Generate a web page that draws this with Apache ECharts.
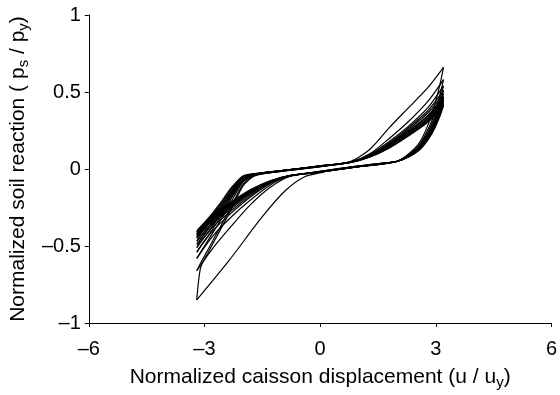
<!DOCTYPE html>
<html>
<head>
<meta charset="utf-8">
<script src="https://cdn.jsdelivr.net/npm/echarts@6/dist/echarts.min.js"></script>
<style>
html,body{margin:0;padding:0;background:#fff;}
#chart{width:560px;height:395px;}
</style>
</head>
<body>
<div id="chart"></div>
<script>
// Axis ticks
const xTicks = [-6, -3, 0, 3, 6];
const yTicks = [-1, -0.5, 0, 0.5, 1];

// Virgin (first) loading curve, toward negative displacement
const uVirgin = [0.1, -0.4, -0.9, -1.5, -2.35, -3.2];
const pVirgin = [-0.02, -0.05, -0.14, -0.31, -0.59, -0.85];

// Displacement grids for branches moving right (neg peak -> pos peak) and left (pos peak -> neg peak)
const uRight = [-3.2, -3.1, -2.9, -2.6, -2.3, -2.0, -1.7, -1.0, 0, 0.8, 1.3, 1.8, 2.3, 2.8, 3.2];
const uLeft  = [3.2, 3.1, 2.9, 2.6, 2.3, 2.0, 1.7, 1.0, 0, -0.8, -1.3, -1.8, -2.3, -2.8, -3.2];

// Soil reaction on rightward branches, one row per cycle
const pRight = [
  [-0.85,-0.64,-0.54,-0.40,-0.26,-0.11,-0.045,-0.015,0.015,0.05,0.13,0.27,0.40,0.53,0.66],
  [-0.66,-0.61,-0.52,-0.38,-0.24,-0.10,-0.04,-0.015,0.015,0.045,0.10,0.20,0.31,0.44,0.58],
  [-0.58,-0.54,-0.46,-0.34,-0.21,-0.085,-0.04,-0.014,0.016,0.045,0.095,0.18,0.28,0.40,0.54],
  [-0.54,-0.50,-0.43,-0.32,-0.19,-0.078,-0.038,-0.013,0.017,0.045,0.09,0.17,0.27,0.38,0.51],
  [-0.51,-0.47,-0.41,-0.30,-0.18,-0.072,-0.036,-0.012,0.018,0.045,0.09,0.165,0.26,0.365,0.49],
  [-0.49,-0.455,-0.39,-0.29,-0.17,-0.066,-0.035,-0.012,0.018,0.045,0.088,0.16,0.25,0.35,0.47],
  [-0.47,-0.435,-0.375,-0.275,-0.16,-0.06,-0.034,-0.011,0.019,0.045,0.087,0.155,0.245,0.345,0.46],
  [-0.45,-0.42,-0.36,-0.265,-0.155,-0.056,-0.033,-0.011,0.019,0.045,0.085,0.15,0.24,0.335,0.45],
  [-0.44,-0.41,-0.35,-0.255,-0.145,-0.052,-0.032,-0.01,0.02,0.044,0.083,0.147,0.233,0.328,0.44],
  [-0.43,-0.40,-0.34,-0.245,-0.14,-0.05,-0.032,-0.01,0.02,0.044,0.082,0.144,0.228,0.32,0.43],
  [-0.42,-0.39,-0.33,-0.235,-0.13,-0.048,-0.031,-0.01,0.02,0.043,0.08,0.14,0.222,0.312,0.42],
  [-0.41,-0.38,-0.32,-0.225,-0.12,-0.045,-0.03,-0.01,0.02,0.043,0.078,0.137,0.216,0.305,0.41]
];

// Soil reaction on leftward branches, one row per cycle
const pLeft = [
  [0.66,0.54,0.355,0.18,0.099,0.05,0.04,0.02,-0.015,-0.05,-0.12,-0.23,-0.37,-0.52,-0.66],
  [0.58,0.474,0.315,0.167,0.092,0.05,0.04,0.02,-0.015,-0.047,-0.105,-0.2,-0.31,-0.44,-0.58],
  [0.54,0.442,0.295,0.158,0.089,0.05,0.04,0.019,-0.016,-0.045,-0.095,-0.18,-0.285,-0.405,-0.54],
  [0.51,0.418,0.28,0.151,0.087,0.05,0.039,0.018,-0.017,-0.045,-0.09,-0.17,-0.27,-0.38,-0.51],
  [0.49,0.402,0.27,0.147,0.085,0.05,0.038,0.017,-0.018,-0.045,-0.088,-0.16,-0.255,-0.36,-0.49],
  [0.47,0.386,0.26,0.142,0.084,0.05,0.038,0.017,-0.018,-0.045,-0.087,-0.155,-0.245,-0.35,-0.47],
  [0.46,0.378,0.255,0.14,0.083,0.05,0.037,0.016,-0.019,-0.045,-0.085,-0.15,-0.237,-0.335,-0.45],
  [0.45,0.37,0.25,0.138,0.082,0.05,0.037,0.016,-0.019,-0.044,-0.083,-0.147,-0.232,-0.328,-0.44],
  [0.44,0.362,0.245,0.136,0.081,0.05,0.036,0.015,-0.02,-0.044,-0.082,-0.144,-0.227,-0.32,-0.43],
  [0.43,0.354,0.24,0.134,0.08,0.05,0.036,0.015,-0.02,-0.043,-0.08,-0.14,-0.222,-0.312,-0.42],
  [0.42,0.346,0.235,0.131,0.08,0.05,0.035,0.015,-0.02,-0.043,-0.078,-0.137,-0.217,-0.305,-0.41],
  [0.41,0.338,0.23,0.129,0.079,0.05,0.035,0.015,-0.02,-0.043,-0.077,-0.134,-0.212,-0.298,-0.40]
];

function zip(u, p) { return u.map((v, i) => [v, p[i]]); }

const lineStyle = { color: '#000', width: 1.2 };
function branch(data) {
  return {
    type: 'line', data: data, showSymbol: false, symbol: 'none',
    smooth: 0.25, lineStyle: lineStyle,
    silent: true, animation: false, z: 2
  };
}

const series = [branch(zip(uVirgin, pVirgin))];
for (let k = 0; k < pRight.length; k++) {
  series.push(branch(zip(uRight, pRight[k])));
  series.push(branch(zip(uLeft, pLeft[k])));
}

const fmt = v => String(v).replace('-', '\u2013');
const font = '"Liberation Sans", Arial, sans-serif';

const chart = echarts.init(document.getElementById('chart'), null, { renderer: 'canvas' });
chart.setOption({
  animation: false,
  backgroundColor: '#fff',
  grid: { left: 85, right: 4, top: 15, bottom: 72, containLabel: false },
  xAxis: {
    type: 'value', min: xTicks[0], max: xTicks[xTicks.length - 1], interval: 3,
    name: 'Normalized caisson displacement (u / u{sub|y})',
    nameLocation: 'middle', nameGap: 42,
    nameTextStyle: {
      fontFamily: font, fontSize: 21, color: '#000',
      rich: { sub: { fontFamily: font, fontSize: 15, color: '#000', verticalAlign: 'bottom', padding: [10, 0, 0, 0] } }
    },
    axisLine: { show: true, onZero: false, lineStyle: { color: '#000', width: 1 } },
    axisTick: { show: true, inside: false, length: 4, lineStyle: { color: '#000' } },
    axisLabel: { fontFamily: font, fontSize: 20, color: '#000', margin: 16, formatter: fmt },
    splitLine: { show: false }
  },
  yAxis: {
    type: 'value', min: yTicks[0], max: yTicks[yTicks.length - 1], interval: 0.5,
    name: 'Normalized soil reaction ( p{sub|s} / p{sub|y})',
    nameLocation: 'middle', nameGap: 51, nameRotate: 90,
    nameTextStyle: {
      fontFamily: font, fontSize: 21, color: '#000',
      rich: { sub: { fontFamily: font, fontSize: 15, color: '#000', padding: [10, 0, 0, 0] } }
    },
    axisLine: { show: true, onZero: false, lineStyle: { color: '#000', width: 1 } },
    axisTick: { show: true, inside: false, length: 4, lineStyle: { color: '#000' } },
    axisLabel: { fontFamily: font, fontSize: 20, color: '#000', margin: 8, formatter: fmt },
    splitLine: { show: false }
  },
  series: series
});
</script>
</body>
</html>
